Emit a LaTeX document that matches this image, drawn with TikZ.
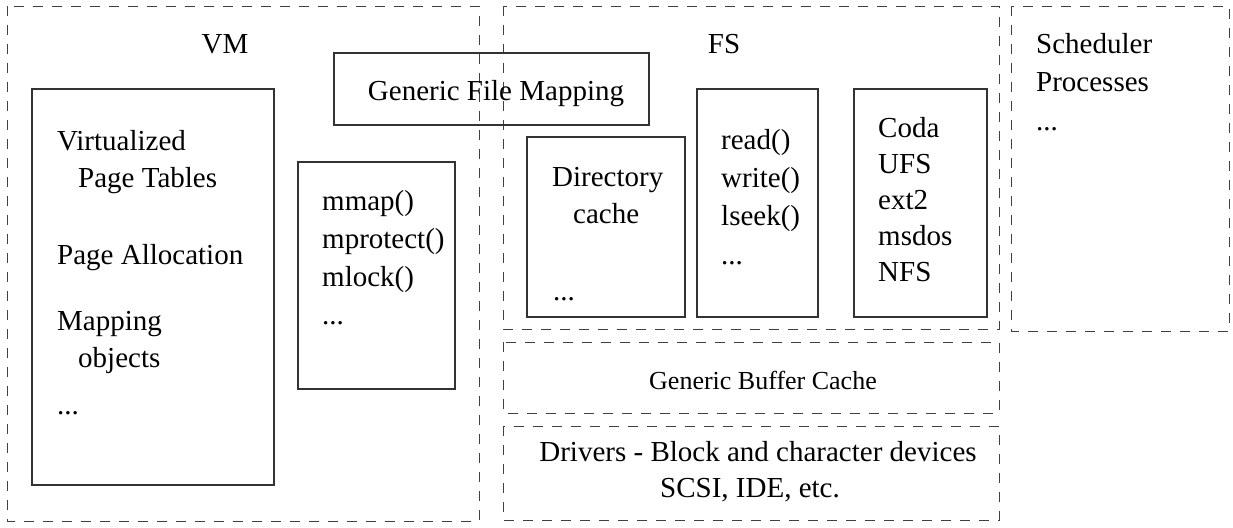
\documentclass[tikz,border=0pt]{standalone}
\usepackage{fontspec}
\setmainfont{Liberation Serif}
\usepackage{tikz}

\begin{document}
\begin{tikzpicture}[x=1pt, y=-1pt,
    area/.style={draw=black!75, line width=0.8pt, dash pattern=on 10pt off 9pt},
    solidbox/.style={draw=black!80, line width=1.3pt},
    txt/.style={font=\fontsize{29}{36}\selectfont, inner sep=0pt, anchor=base west},
    ctxt/.style={font=\fontsize{29}{36}\selectfont, inner sep=0pt, anchor=base},
    stxt/.style={font=\fontsize{26}{32}\selectfont, inner sep=0pt, anchor=base}]
\useasboundingbox (0,0) rectangle (1233,527);

% Dashed areas
\draw[area] (7,6) rectangle (479,521);
\draw[area] (503,6) rectangle (999,329);
\draw[area] (503,342) rectangle (999,413);
\draw[area] (503,426) rectangle (999,520);
\draw[area] (1011,6) rectangle (1229,331);

% Area titles
\node[ctxt] (vmlabel) at (225,53) {VM};
\node[ctxt] (fslabel) at (724,53) {FS};

% Generic File Mapping (across VM and FS)
\draw[solidbox] (334,53) rectangle (649,125);
\node[ctxt] (filemap) at (496,100) {Generic File Mapping};

% VM: page tables box
\draw[solidbox] (32,89) rectangle (274,485);
\node[txt] (virt) at (57,150) {Virtualized};
\node[txt] (ptab) at (78,187) {Page Tables};
\node[txt] (palloc) at (57,264) {Page Allocation};
\node[txt] (mapp) at (57,330) {Mapping};
\node[txt] (mobj) at (78,367) {objects};
\node[txt] (vmdots) at (57,414) {...};

% VM: system calls box
\draw[solidbox] (298,162) rectangle (455,389);
\node[txt] (mmap) at (322,210) {mmap()};
\node[txt] (mprot) at (322,248) {mprotect()};
\node[txt] (mlock) at (322,286) {mlock()};
\node[txt] (mdots) at (322,324) {...};

% FS: directory cache
\draw[solidbox] (527,137) rectangle (685,317);
\node[txt] (dir) at (552,186) {Directory};
\node[txt] (dcache) at (573,223) {cache};
\node[txt] (ddots) at (553,300) {...};

% FS: system calls
\draw[solidbox] (697,89) rectangle (818,317);
\node[txt] (read) at (721,149) {read()};
\node[txt] (write) at (721,187) {write()};
\node[txt] (lseek) at (721,225) {lseek()};
\node[txt] (rdots) at (721,264) {...};

% FS: file system types
\draw[solidbox] (854,89) rectangle (987,317);
\node[txt] (coda) at (878,137) {Coda};
\node[txt] (ufs) at (878,173) {UFS};
\node[txt] (ext) at (878,209) {ext2};
\node[txt] (msdos) at (878,245) {msdos};
\node[txt] (nfs) at (878,281) {NFS};

% Buffer cache and drivers
\node[stxt] (bufcache) at (763,389) {Generic Buffer Cache};
\node[ctxt] (drivers) at (758,461) {Drivers - Block and character devices};
\node[ctxt] (scsi) at (750,497) {SCSI, IDE, etc.};

% Scheduler
\node[txt] (sched) at (1036,53) {Scheduler};
\node[txt] (proc) at (1036,92) {Processes};
\node[txt] (sdots) at (1036,130) {...};
\end{tikzpicture}
\end{document}
